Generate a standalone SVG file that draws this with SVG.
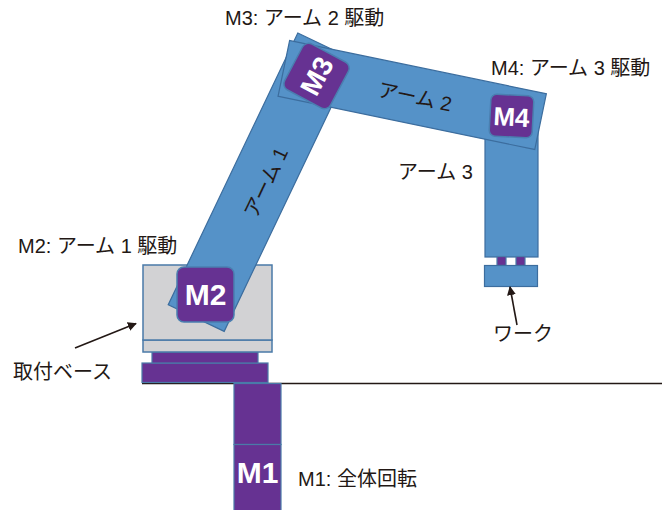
<svg xmlns="http://www.w3.org/2000/svg" width="672" height="510" viewBox="0 0 672 510">
  <defs>
    <style>
      .lbl { font-family: 'Liberation Sans', 'Noto Sans CJK JP', sans-serif; font-size: 20px; fill: #231815; }
      .arm { fill: #5592c8; stroke: #3c6d9e; stroke-width: 1.2; }
      .mot { fill: #663292; stroke: #4a7fb0; stroke-width: 1.5; }
      .mtx { font-family: 'Liberation Sans', Arial, sans-serif; font-weight: bold; fill: #ffffff; text-anchor: middle; }
      .base { fill: #d2d2d4; stroke: #4a7aa8; stroke-width: 1.5; }
      .plate { fill: #663292; stroke: #4a7aa8; stroke-width: 1.2; }
      .ptr { stroke: #231815; stroke-width: 1.6; fill: none; }
    </style>
    <marker id="head" viewBox="0 0 10 10" refX="9" refY="5" markerWidth="9" markerHeight="9" markerUnits="userSpaceOnUse" orient="auto">
      <path d="M0,0 L10,5 L0,10 z" fill="#231815"/>
    </marker>
  </defs>

  <rect width="672" height="510" fill="#ffffff"/>

  <!-- floor line -->
  <line x1="142" y1="383.5" x2="662" y2="383.5" stroke="#231815" stroke-width="1.5"/>

  <!-- M1: base rotation column -->
  <g id="m1">
    <rect class="plate" x="234" y="383.5" width="47" height="61"/>
    <rect class="plate" x="234" y="444.5" width="47" height="70"/>
    <text class="mtx" x="257.5" y="483" font-size="30">M1</text>
  </g>

  <!-- mounting base -->
  <g id="mount">
    <rect class="plate" x="142" y="363" width="126" height="19.5"/>
    <rect class="plate" x="152" y="352" width="106" height="11"/>
    <rect class="base" x="143" y="340" width="129" height="12"/>
    <rect class="base" x="143" y="265" width="129" height="75"/>
  </g>

  <!-- arm 1 -->
  <g id="arm1">
    <rect class="arm" x="-31" y="-150.5" width="62" height="301" transform="translate(261,182.2) rotate(25.5)"/>
    <text class="lbl" font-size="18" text-anchor="middle" x="0" y="6" transform="translate(267,183) rotate(-64.5)">アーム 1</text>
  </g>

  <!-- M2 joint -->
  <g id="m2">
    <rect class="mot" x="177" y="267" width="57" height="55" rx="7"/>
    <text class="mtx" x="205.5" y="305" font-size="30">M2</text>
  </g>

  <!-- arm 3 with gripper and work -->
  <g id="arm3">
    <rect class="arm" x="485" y="130" width="53" height="127"/>
    <rect class="plate" x="497" y="256.5" width="9" height="9" stroke="#4a7fb0"/>
    <rect class="plate" x="516" y="256.5" width="9" height="9" stroke="#4a7fb0"/>
  </g>
  <g id="work">
    <rect class="arm" x="484.5" y="265.5" width="53" height="21"/>
  </g>

  <!-- arm 2 -->
  <g id="arm2">
    <rect class="arm" x="-131.1" y="-28.5" width="262.2" height="57" transform="translate(412.2,95) rotate(11.73)"/>
    <text class="lbl" text-anchor="middle" x="0" y="7" transform="translate(415,97) rotate(11.73)">アーム 2</text>
  </g>

  <!-- M3 joint -->
  <g id="m3">
    <g transform="translate(316.5,76) rotate(-62)">
      <rect class="mot" x="-26" y="-26" width="52" height="52" rx="7"/>
      <text class="mtx" x="0" y="10" font-size="28">M3</text>
    </g>
  </g>

  <!-- M4 joint -->
  <g id="m4">
    <g transform="translate(511.5,116) rotate(3)">
      <rect class="mot" x="-21.5" y="-21" width="43" height="42" rx="6"/>
      <text class="mtx" x="0" y="10" font-size="26">M4</text>
    </g>
  </g>

  <!-- labels -->
  <g id="labels">
    <text class="lbl" x="225" y="25">M3: アーム 2 駆動</text>
    <text class="lbl" x="491" y="75">M4: アーム 3 駆動</text>
    <text class="lbl" x="18" y="253">M2: アーム 1 駆動</text>
    <text class="lbl" x="398" y="179">アーム 3</text>
    <text class="lbl" x="13" y="379">取付ベース</text>
    <text class="lbl" x="493" y="341">ワーク</text>
    <text class="lbl" x="298" y="486">M1: 全体回転</text>
  </g>

  <!-- pointers -->
  <g id="connectors">
    <line class="ptr" x1="75" y1="348" x2="136" y2="323.5" marker-end="url(#head)"/>
    <line class="ptr" x1="517" y1="325" x2="510" y2="287" marker-end="url(#head)"/>
  </g>
</svg>
